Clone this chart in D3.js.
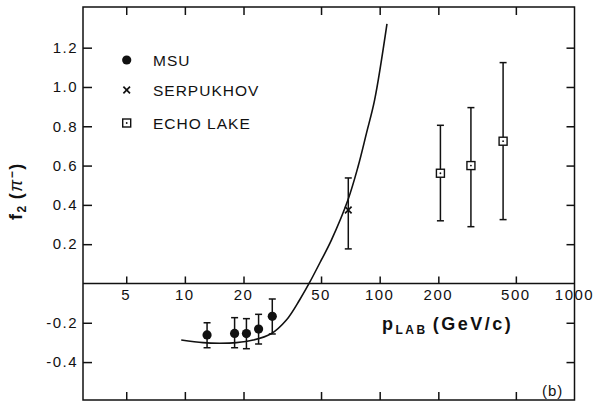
<!DOCTYPE html>
<html>
<head>
<meta charset="utf-8">
<script src="https://cdn.jsdelivr.net/npm/d3@7"></script>
<style>
  html, body { margin: 0; padding: 0; background: #fff; }
  svg { display: block; }
  text { font-family: "Liberation Sans", Arial, sans-serif; fill: #111; }
</style>
</head>
<body>
<svg id="chart" width="607" height="403"></svg>
<script>
// Lab momentum ticks (GeV/c) and f2 ticks
const xTicks = [5, 10, 20, 50, 100, 200, 500];
const xTickLabels = ["5", "10", "20", "50", "100", "200", "500", "1000"];
const xLabelValues = [5, 10, 20, 50, 100, 200, 500, 1000];
const yTicks = [-0.4, -0.2, 0.2, 0.4, 0.6, 0.8, 1.0, 1.2];
const yTickLabels = ["-0.4", "-0.2", "0.2", "0.4", "0.6", "0.8", "1.0", "1.2"];

// MSU measurements
const msuP = [13, 18, 20.7, 23.9, 28.1];
const msuF = [-0.262, -0.254, -0.255, -0.232, -0.167];
const msuLo = [-0.327, -0.327, -0.332, -0.308, -0.257];
const msuHi = [-0.200, -0.174, -0.179, -0.157, -0.079];

// Serpukhov measurement
const serpP = [69];
const serpF = [0.374];
const serpLo = [0.176];
const serpHi = [0.537];

// Echo Lake measurements
const echoP = [205, 294, 430];
const echoF = [0.561, 0.600, 0.724];
const echoLo = [0.319, 0.289, 0.325];
const echoHi = [0.805, 0.895, 1.124];

// Dispersion-relation prediction
const curveP = [9.58, 12.4, 15.07, 18.4, 22.4, 27.7, 33.2, 38.8, 43.4, 50.2, 56.5, 68.7, 77.4, 85.5, 94.2, 109];
const curveF = [-0.288, -0.301, -0.304, -0.301, -0.288, -0.256, -0.186, -0.084, 0.0, 0.12, 0.221, 0.425, 0.594, 0.764, 0.934, 1.321];

const svg = d3.select("#chart");
const ink = "#111";

const x = d3.scaleLog().domain([3, 1000]).range([83, 574.5]);
const y = d3.scaleLinear().domain([-0.593, 1.407]).range([400, 7]);

const [x0, x1] = x.range();
const [yb, yt] = y.range();

// frame
svg.append("rect")
  .attr("x", x0).attr("y", yt)
  .attr("width", x1 - x0).attr("height", yb - yt)
  .attr("fill", "none").attr("stroke", ink).attr("stroke-width", 1.5);

function styleAxis(g) {
  g.select(".domain").remove();
  g.selectAll(".tick line").attr("stroke", ink).attr("stroke-width", 1.5);
}

// top and bottom ticks
svg.append("g").attr("transform", `translate(0,${yt})`)
  .call(d3.axisTop(x).tickValues(xTicks).tickSizeInner(-8).tickFormat(""))
  .call(styleAxis);
svg.append("g").attr("transform", `translate(0,${yb})`)
  .call(d3.axisBottom(x).tickValues(xTicks).tickSizeInner(-8).tickFormat(""))
  .call(styleAxis);

// left axis with labels, right axis ticks only
svg.append("g").attr("transform", `translate(${x0},0)`)
  .call(d3.axisLeft(y).tickValues(yTicks).tickSizeInner(-9).tickPadding(5)
    .tickFormat((d, i) => yTickLabels[i]))
  .call(styleAxis)
  .call(g => g.selectAll("text")
    .style("font-size", "15px").style("letter-spacing", "1.5px")
    .attr("fill", ink));
svg.append("g").attr("transform", `translate(${x1},0)`)
  .call(d3.axisRight(y).tickValues(yTicks).tickSizeInner(-8).tickFormat(""))
  .call(styleAxis);

// zero line with upward ticks and momentum labels beneath
svg.append("line")
  .attr("x1", x0).attr("x2", x1)
  .attr("y1", y(0)).attr("y2", y(0))
  .attr("stroke", ink).attr("stroke-width", 1.5);
svg.append("g").attr("transform", `translate(0,${y(0)})`)
  .call(d3.axisBottom(x).tickValues(xTicks).tickSizeInner(-7).tickFormat(""))
  .call(styleAxis);
svg.append("g").selectAll("text")
  .data(xLabelValues)
  .join("text")
  .attr("x", d => x(d))
  .attr("y", y(0) + 16.5)
  .attr("text-anchor", "middle")
  .style("font-size", "15px")
  .style("letter-spacing", "1.5px")
  .text((d, i) => xTickLabels[i]);

// prediction curve
const line = d3.line()
  .x(d => x(d[0])).y(d => y(d[1]))
  .curve(d3.curveCatmullRom.alpha(0.5));
svg.append("path")
  .datum(curveP.map((p, i) => [p, curveF[i]]))
  .attr("d", line)
  .attr("fill", "none").attr("stroke", ink).attr("stroke-width", 1.6);

// error bars
function errorBars(P, Lo, Hi) {
  const g = svg.append("g").attr("stroke", ink).attr("stroke-width", 1.5);
  P.forEach((p, i) => {
    const cx = x(p);
    g.append("line").attr("x1", cx).attr("x2", cx).attr("y1", y(Lo[i])).attr("y2", y(Hi[i]));
    g.append("line").attr("x1", cx - 3.5).attr("x2", cx + 3.5).attr("y1", y(Lo[i])).attr("y2", y(Lo[i]));
    g.append("line").attr("x1", cx - 3.5).attr("x2", cx + 3.5).attr("y1", y(Hi[i])).attr("y2", y(Hi[i]));
  });
}
errorBars(msuP, msuLo, msuHi);
errorBars(serpP, serpLo, serpHi);
errorBars(echoP, echoLo, echoHi);

// markers
function dot(g, cx, cy) {
  g.append("circle").attr("cx", cx).attr("cy", cy).attr("r", 4.6).attr("fill", ink);
}
function cross(g, cx, cy) {
  const s = 3.3;
  g.append("path")
    .attr("d", `M${cx - s},${cy - s}L${cx + s},${cy + s}M${cx - s},${cy + s}L${cx + s},${cy - s}`)
    .attr("stroke", ink).attr("stroke-width", 1.7);
}
function boxDot(g, cx, cy) {
  g.append("rect").attr("x", cx - 4).attr("y", cy - 4).attr("width", 8).attr("height", 8)
    .attr("fill", "#fff").attr("stroke", ink).attr("stroke-width", 1.4);
  g.append("circle").attr("cx", cx).attr("cy", cy).attr("r", 0.9).attr("fill", ink);
}

const marks = svg.append("g");
msuP.forEach((p, i) => dot(marks, x(p), y(msuF[i])));
serpP.forEach((p, i) => cross(marks, x(p), y(serpF[i])));
echoP.forEach((p, i) => boxDot(marks, x(p), y(echoF[i])));

// legend
const legend = svg.append("g");
const legendItems = [
  { label: "MSU", draw: dot, cy: 60 },
  { label: "SERPUKHOV", draw: cross, cy: 90 },
  { label: "ECHO LAKE", draw: boxDot, cy: 123 }
];
legendItems.forEach(it => {
  it.draw(legend, 126.7, it.cy);
  legend.append("text")
    .attr("x", 153).attr("y", it.cy + 5.5)
    .style("font-size", "15.5px").style("letter-spacing", "1px")
    .text(it.label);
});

// axis titles
const xTitle = svg.append("text")
  .attr("x", 382).attr("y", 330)
  .style("font-size", "18px").style("letter-spacing", "2.5px")
  .style("font-weight", "bold");
xTitle.append("tspan").text("p");
xTitle.append("tspan").attr("dy", 4).style("font-size", "12px").text("LAB");
xTitle.append("tspan").attr("dy", -4).attr("dx", 5).text("(GeV/c)");

const yTitle = svg.append("text")
  .attr("transform", "translate(22,191) rotate(-90)")
  .attr("text-anchor", "middle")
  .style("font-size", "18px").style("letter-spacing", "1.5px")
  .style("font-weight", "bold");
yTitle.append("tspan").text("f");
yTitle.append("tspan").attr("dy", 4).style("font-size", "12px").text("2");
yTitle.append("tspan").attr("dy", -4).attr("dx", 5).text("(");
yTitle.append("tspan").style("font-style", "italic").style("font-weight", "normal").text("π");
yTitle.append("tspan").attr("dy", -6).style("font-size", "12px").text("−");
yTitle.append("tspan").attr("dy", 6).text(")");

// panel tag
svg.append("text")
  .attr("x", 542).attr("y", 396)
  .style("font-size", "15px").style("letter-spacing", "1px")
  .text("(b)");
</script>
</body>
</html>
